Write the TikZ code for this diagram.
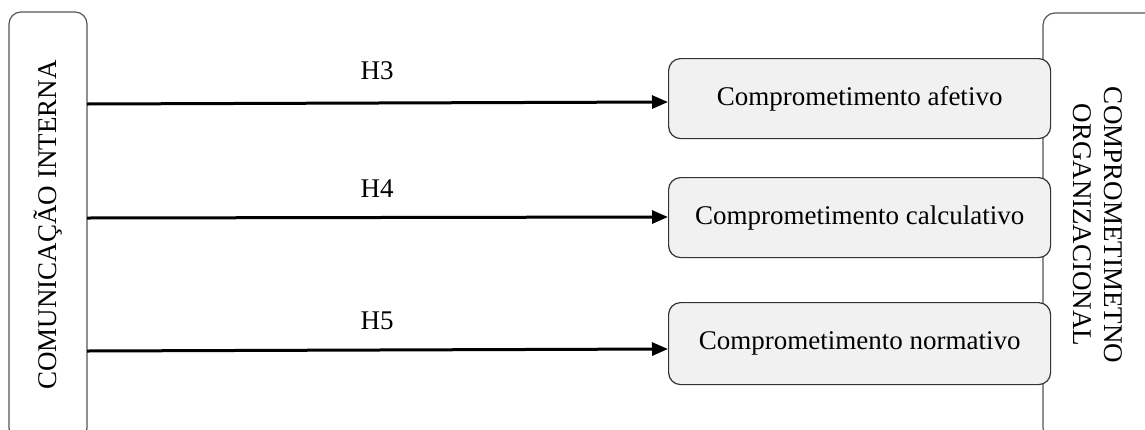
\documentclass[tikz,border=0pt]{standalone}
\usepackage{fontspec}
\setmainfont{Liberation Serif}
\usetikzlibrary{arrows.meta}
\definecolor{boxfill}{HTML}{F1F1F1}
\definecolor{boxline}{HTML}{333333}
\definecolor{frameline}{HTML}{555555}
\tikzset{
  frame/.style={draw=frameline, line width=1.2pt, rounded corners=12pt},
  stage/.style={draw=boxline, fill=boxfill, line width=1.2pt, rounded corners=12pt,
    minimum width=382pt, minimum height=80pt, inner sep=0pt, anchor=north west},
  arr/.style={line width=3pt, -{Triangle[length=16pt,width=13pt]}},
  hyp/.style={inner sep=0pt}
}
\begin{document}
\begin{tikzpicture}[x=1pt,y=-1pt,font=\fontsize{27}{31}\selectfont]
\useasboundingbox (0,0) rectangle (1145,429);
\clip (0,0) rectangle (1145,429);
% outer frames
\draw[frame] (9,12) rectangle (87,440);
\draw[frame] (1043,13) rectangle (1160,440);
\coordinate (L) at (87,225);
\node[rotate=90] (lt) at (48,225) {COMUNICAÇÃO INTERNA};
\node[rotate=-90, align=center] (rt) at (1098,225) {COMPROMETIMETNO\\ORGANIZACIONAL};
% commitment components
\node[stage] (b1) at (668,58) {Comprometimento afetivo};
\node[stage] (b2) at (668,177) {Comprometimento calculativo};
\node[stage, minimum height=82pt] (b3) at (668,302) {Comprometimento normativo};
% hypotheses
\draw[arr] (L |- 0,104) -- (b1.west |- 0,102);
\draw[arr] (L |- 0,218) -- (b2.west |- 0,217);
\draw[arr] (L |- 0,351) -- (b3.west |- 0,349);
\node[hyp] (h3) at (377,71) {H3};
\node[hyp] (h4) at (377,189) {H4};
\node[hyp] (h5) at (377,321) {H5};
\end{tikzpicture}
\end{document}
